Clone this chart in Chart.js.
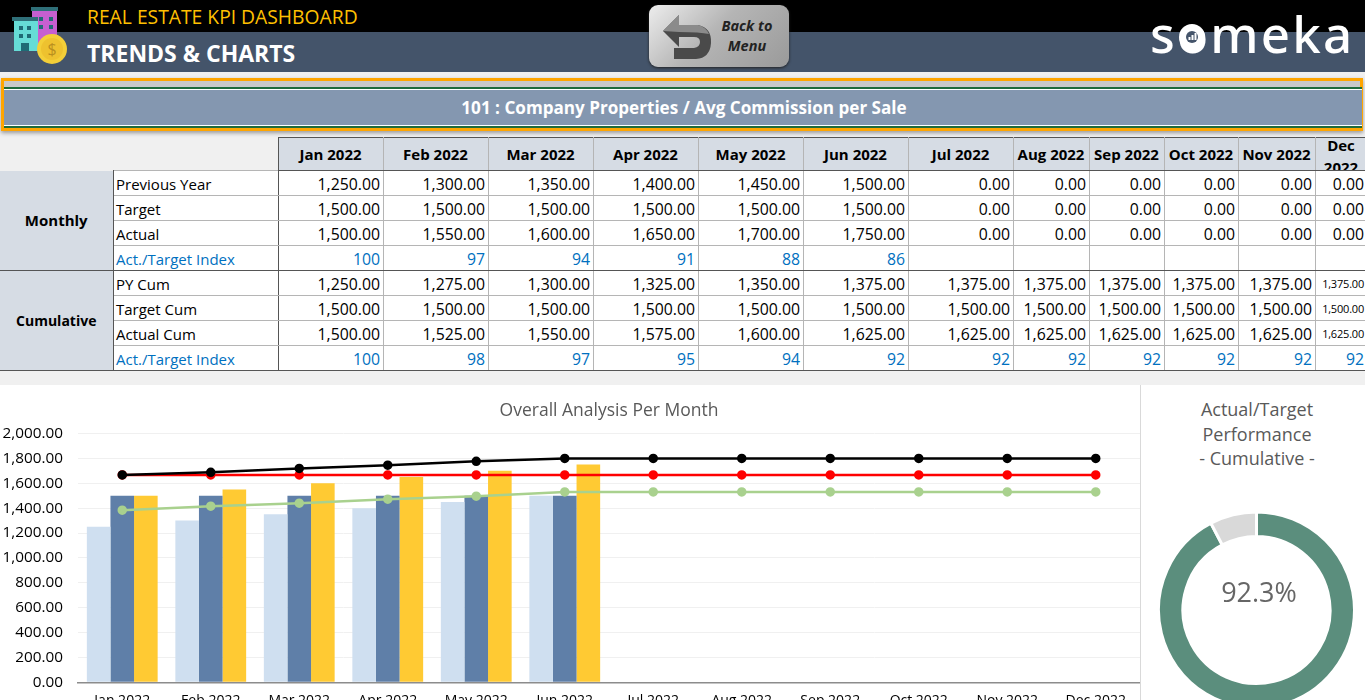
<!DOCTYPE html>
<html>
<head>
<meta charset="utf-8">
<title>Trends & Charts</title>
<script src="https://cdn.jsdelivr.net/npm/chart.js@4"></script>
<style>
  html, body { margin: 0; padding: 0; width: 1365px; height: 700px; overflow: hidden; background: #f0f0f0; font-family: "Open Sans", sans-serif; }
  .abs { position: absolute; }
  #topBlack { left: 0; top: 0; width: 1365px; height: 32px; background: #000; }
  #topSlate { left: 0; top: 32px; width: 1365px; height: 40px; background: #44546a; }
  #title1 { left: 87px; top: 3px; color: #ffc000; font-size: 19.3px; line-height: 28px; white-space: nowrap; }
  #title2 { left: 87px; top: 36px; color: #fff; font-size: 23px; font-weight: 700; line-height: 34px; white-space: nowrap; }
  #backBtn { left: 649px; top: 5px; width: 140px; height: 62px; border-radius: 9px; background: linear-gradient(135deg, #ededed 0%, #b5b5b5 45%, #9a9a9a 100%); box-shadow: 0 1px 3px #222; }
  #backTxt { left: 700px; top: 16px; width: 94px; text-align: center; font-size: 14.5px; line-height: 20px; font-style: italic; font-weight: 700; color: #222; }
  #logo { left: 1150px; top: -3px; color: #fff; font-size: 51px; line-height: 72px; letter-spacing: 2.2px; font-family: "Noto Sans", sans-serif; font-weight: 500; white-space: nowrap; }
  #frame { left: 1px; top: 78px; width: 1356px; height: 47px; border: 3px solid #ffa500; background: #c9c9c9; box-shadow: 0 2px 4px #999; }
  #banner { left: 4px; top: 89px; width: 1356px; height: 35px; padding-left: 2px; box-sizing: content-box; background: #8497b0; border-top: 1px solid #fff; border-bottom: 1px solid #fff; color: #fff; font-weight: 700; font-size: 17.1px; line-height: 36px; text-align: center; }
  #greenTop, #greenBot { left: 4px; width: 1358px; height: 2px; background: #1f6b3b; }
  #greenTop { top: 87px; }
  #greenBot { top: 126px; }
  #kpi { left: 0; top: 137px; border-collapse: collapse; table-layout: fixed; width: 1367px; font-size: 15.8px; color: #000; }
  #kpi tr { height: 25px; }
  #kpi tr.head { height: 33px; }
  #kpi td, #kpi th { padding: 0 2.5px; box-sizing: border-box; border: 1px solid #b5b5b5; background: #fff; text-align: right; white-space: nowrap; overflow: hidden; }
  #kpi td { height: 25px; line-height: 20px; padding-top: 1px; }
  #kpi th { height: 33px; line-height: 20px; font-size: 15px; background: #d6dce4; text-align: center; font-weight: 700; border-top: 1px solid #555; border-bottom: 1px solid #555; }
  #kpi th.blank { background: #f0f0f0; border: 0; border-right: 1px solid #555; }
  #kpi th.wrap { padding: 0; }
  #kpi th.wrap div { height: 32px; overflow: hidden; white-space: normal; line-height: 22px; }
  #kpi th.wrap span { display: block; position: relative; top: -4px; }
  #kpi td.group { font-size: 15px; background: #d6dce4; font-weight: 700; text-align: center; border: 0; border-right: 1px solid #555; padding-top: 0; }
  #kpi td.name { font-size: 15px; text-align: left; border-left: 1px solid #555; border-right: 1px solid #555; }
  #kpi td.blue { color: #0070c0; }
  #kpi tr.sep td { border-bottom: 1px solid #555; }
  #kpi td.small { font-size: 11px; letter-spacing: -0.2px; }
  #chartPanel { left: 0; top: 385px; width: 1140px; height: 315px; background: #fff; overflow: hidden; }
  #sidePanel { left: 1140px; top: 385px; width: 225px; height: 315px; background: #fff; border-left: 1px solid #d9d9d9; box-sizing: border-box; overflow: hidden; }
  #sideTitle { left: 1141px; top: 397px; width: 232px; text-align: center; color: #595959; font-size: 18px; line-height: 24.5px; }
  #donutWrap { left: 1154px; top: 507px; width: 205px; height: 206px; }
  #pct { left: 1160px; top: 570px; width: 198px; text-align: center; color: #666; font-size: 27px; line-height: 44px; }
</style>
</head>
<body>
<div class="abs" id="topBlack"></div>
<div class="abs" id="topSlate"></div>

<svg class="abs" style="left:10px;top:6px" width="60" height="60" viewBox="0 0 60 60">
  <rect x="22" y="3" width="25" height="40" fill="#c65fd0"/>
  <rect x="21" y="1" width="27" height="4" fill="#2f6f78"/>
  <rect x="4" y="14" width="24" height="31" fill="#66dcd6"/>
  <rect x="2" y="11" width="26" height="4" fill="#2f6f78"/>
  <rect x="9" y="20" width="4" height="4" fill="#1f6b75"/><rect x="17" y="20" width="4" height="4" fill="#1f6b75"/>
  <rect x="9" y="28" width="4" height="4" fill="#1f6b75"/><rect x="17" y="28" width="4" height="4" fill="#1f6b75"/>
  <rect x="11" y="37" width="8" height="8" fill="#1f6b75"/>
  <rect x="29" y="11" width="4" height="4" fill="#1f6b75"/><rect x="39" y="11" width="4" height="4" fill="#1f6b75"/>
  <rect x="29" y="19" width="4" height="4" fill="#1f6b75"/><rect x="39" y="19" width="4" height="4" fill="#1f6b75"/>
  <circle cx="42" cy="43" r="15" fill="#f4cf38"/>
  <circle cx="42" cy="43" r="11" fill="#eec22f"/>
  <text x="42" y="49" text-anchor="middle" font-size="16" fill="#b98f1f" font-family="Open Sans">$</text>
</svg>

<div class="abs" id="title1">REAL ESTATE KPI DASHBOARD</div>
<div class="abs" id="title2">TRENDS &amp; CHARTS</div>

<div class="abs" id="backBtn"></div>
<svg class="abs" style="left:660px;top:12px" width="55" height="50" viewBox="0 0 55 50">
  <path d="M3 19 L19 3 L19 13 L38 13 Q52 16 51 31 Q50 46 36 47 L14 47 L14 36 L34 36 Q40 35 40 30 Q40 25 34 25 L19 25 L19 35 Z" fill="#4a4a4a"/>
  <path d="M3 19 L19 3 L19 13 L38 13 Q46 15 49 22 Q40 20 19 20 Z" fill="#8b8b8b"/>
</svg>
<div class="abs" id="backTxt">Back to<br>Menu</div>

<div class="abs" id="logo">someka</div>
<svg class="abs" style="left:1178px;top:23px" width="28" height="28" viewBox="0 0 28 28">
  <circle cx="14" cy="14" r="13" fill="#fff"/>
  <circle cx="14" cy="14" r="6" fill="#44546a"/>
  <rect x="10.5" y="14" width="2" height="3" fill="#fff"/><rect x="13.5" y="12" width="2" height="5" fill="#fff"/><rect x="16.5" y="10" width="2" height="7" fill="#fff"/>
</svg>

<div class="abs" id="frame"></div>
<div class="abs" id="greenTop"></div>
<div class="abs" id="banner">101 : Company Properties / Avg Commission per Sale</div>
<div class="abs" id="greenBot"></div>

<table class="abs" id="kpi"></table>

<div class="abs" id="chartPanel"><canvas id="monthChart" width="1146" height="340"></canvas></div>
<div class="abs" id="sidePanel"></div>
<div class="abs" id="sideTitle">Actual/Target<br>Performance<br>- Cumulative -</div>
<div class="abs" id="donutWrap"><canvas id="donutChart" width="205" height="206"></canvas></div>
<div class="abs" id="pct"></div>

<script>
// TABLE + CHART DATA
const months = ["Jan 2022", "Feb 2022", "Mar 2022", "Apr 2022", "May 2022", "Jun 2022", "Jul 2022", "Aug 2022", "Sep 2022", "Oct 2022", "Nov 2022", "Dec 2022"];
const previousYear = [1250, 1300, 1350, 1400, 1450, 1500, 0, 0, 0, 0, 0, 0];
const target = [1500, 1500, 1500, 1500, 1500, 1500, 0, 0, 0, 0, 0, 0];
const actual = [1500, 1550, 1600, 1650, 1700, 1750, 0, 0, 0, 0, 0, 0];
const monthIndex = [100, 97, 94, 91, 88, 86, "", "", "", "", "", ""];
const pyCum = [1250, 1275, 1300, 1325, 1350, 1375, 1375, 1375, 1375, 1375, 1375, 1375];
const targetCum = [1500, 1500, 1500, 1500, 1500, 1500, 1500, 1500, 1500, 1500, 1500, 1500];
const actualCum = [1500, 1525, 1550, 1575, 1600, 1625, 1625, 1625, 1625, 1625, 1625, 1625];
const cumIndex = [100, 98, 97, 95, 94, 92, 92, 92, 92, 92, 92, 92];

// lines as they are drawn in the chart
const blackLine = [1667, 1688, 1719, 1745, 1776, 1800, 1800, 1800, 1800, 1800, 1800, 1800];
const redLine = [1667, 1667, 1667, 1667, 1667, 1667, 1667, 1667, 1667, 1667, 1667, 1667];
const greenLine = [1384, 1416, 1440, 1472, 1496, 1530, 1530, 1530, 1530, 1530, 1530, 1530];

const yTicks = [0, 200, 400, 600, 800, 1000, 1200, 1400, 1600, 1800, 2000];
const donutLabels = ["Performance", "Remaining"];
const donutValues = [92.3, 7.7];

const colWidths = [113, 165, 105, 105, 105, 105, 105, 105, 105, 76, 75, 74, 77, 52];

/* ================= KPI TABLE ================= */
const fmt = v => v === "" ? "" : v.toLocaleString("en-US", { minimumFractionDigits: 2, maximumFractionDigits: 2 });

function dataRow(name, values, isIndex, groupCell, sep) {
  let html = `<tr class="${sep ? "sep" : ""}">` + groupCell;
  html += `<td class="name ${isIndex ? "blue" : ""}">${name}</td>`;
  values.forEach((v, i) => {
    let cls = isIndex ? "blue" : "";
    if (!isIndex && i === 11 && v > 0) cls = "small";
    html += `<td class="${cls}">${isIndex ? v : fmt(v)}</td>`;
  });
  return html + "</tr>";
}

let tableHtml = "<colgroup>" + colWidths.map(w => `<col style="width:${w}px">`).join("") + "</colgroup>";
tableHtml += '<tr class="head"><th class="blank" colspan="2"></th>';
months.forEach((m, i) => {
  tableHtml += i === 11 ? `<th class="wrap"><div><span>${m}</span></div></th>` : `<th>${m}</th>`;
});
tableHtml += "</tr>";
tableHtml += dataRow("Previous Year", previousYear, false, '<td class="group" rowspan="4">Monthly</td>');
tableHtml += dataRow("Target", target, false, "");
tableHtml += dataRow("Actual", actual, false, "");
tableHtml += dataRow("Act./Target Index", monthIndex, true, "", true);
tableHtml += dataRow("PY Cum", pyCum, false, '<td class="group" rowspan="4" style="font-size:14px;border-bottom:1px solid #555;border-top:1px solid #555">Cumulative</td>');
tableHtml += dataRow("Target Cum", targetCum, false, "");
tableHtml += dataRow("Actual Cum", actualCum, false, "");
tableHtml += dataRow("Act./Target Index", cumIndex, true, "", true);
document.getElementById("kpi").innerHTML = tableHtml;

/* ================= OVERALL ANALYSIS (BAR + LINE) ================= */
const lineSet = (label, data, color, order) => ({
  type: "line", label, data, order,
  borderColor: color, backgroundColor: color,
  borderWidth: 2.5, pointRadius: 3.5, pointHoverRadius: 3.5, tension: 0
});

new Chart(document.getElementById("monthChart"), {
  data: {
    labels: months,
    datasets: [
      lineSet("Actual Cum", blackLine, "#000000", 0),
      lineSet("Target Cum", redLine, "#ff0000", 1),
      lineSet("PY Cum", greenLine, "#a9d18e", 2),
      { type: "bar", label: "Previous Year", data: previousYear, backgroundColor: "#cfdff0", order: 3 },
      { type: "bar", label: "Target", data: target, backgroundColor: "#5f7fa8", order: 3 },
      { type: "bar", label: "Actual", data: actual, backgroundColor: "#ffca33", order: 3 }
    ]
  },
  options: {
    responsive: false,
    animation: false,
    datasets: { bar: { categoryPercentage: 0.8, barPercentage: 1 } },
    layout: { padding: 0 },
    plugins: {
      legend: { display: false },
      tooltip: { enabled: false },
      title: {
        display: true,
        fullSize: false,
        text: "Overall Analysis Per Month",
        color: "#595959",
        font: { family: "Open Sans", size: 17.5, weight: "normal" },
        padding: { top: 16, bottom: 11.5 }
      }
    },
    scales: {
      x: {
        grid: { display: false },
        border: { display: true, color: "#8c8c8c", width: 1.5 },
        ticks: { color: "#000", font: { family: "Open Sans", size: 14 }, padding: 2, maxRotation: 0, autoSkip: false },
        afterFit(scale) { scale.height = 42.7; }
      },
      y: {
        min: 0,
        max: 2000,
        afterBuildTicks(scale) { scale.ticks = yTicks.map(value => ({ value })); },
        grid: { color: "#f0f0f0", drawTicks: false },
        border: { display: false },
        ticks: {
          color: "#000",
          padding: 15,
          font: { family: "Open Sans", size: 15.3 },
          callback: v => fmt(v)
        },
        afterFit(scale) { scale.width = 78; }
      }
    }
  }
});

/* ================= ACTUAL / TARGET (DOUGHNUT) ================= */
new Chart(document.getElementById("donutChart"), {
  type: "doughnut",
  data: {
    labels: donutLabels,
    datasets: [{
      data: donutValues,
      backgroundColor: ["#5b8e7d", "#d9d9d9"],
      borderColor: "#fff",
      borderWidth: 3
    }]
  },
  options: {
    responsive: false,
    animation: false,
    cutout: "75%",
    layout: { padding: 3 },
    plugins: { legend: { display: false }, tooltip: { enabled: false } }
  }
});
document.getElementById("pct").textContent = donutValues[0].toFixed(1) + "%";
</script>
</body>
</html>
